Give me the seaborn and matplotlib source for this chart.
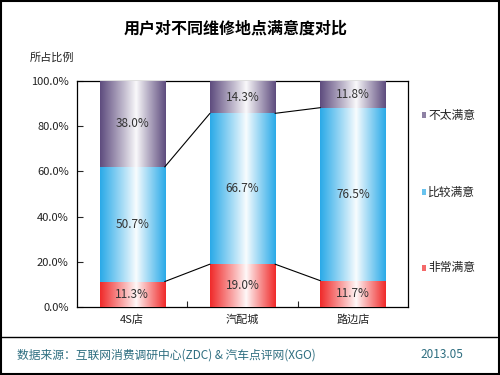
import numpy as np
import pandas as pd
import matplotlib
matplotlib.use("Agg")
import matplotlib.pyplot as plt
import seaborn as sns
from matplotlib.colors import to_rgb
from matplotlib.patches import Rectangle
from matplotlib.lines import Line2D

categories = ["4S店", "汽配城", "路边店"]
very_satisfied = [11.3, 19.0, 11.7]
fairly_satisfied = [50.7, 66.7, 76.5]
not_satisfied = [38.0, 14.3, 11.8]
series_names = ["非常满意", "比较满意", "不太满意"]
series_colors = ["#F02A2A", "#2AAAE8", "#5E4C7E"]
yticks = [0, 20, 40, 60, 80, 100]

sns.set_theme(style="white")
plt.rcParams['font.family'] = ['Noto Sans CJK SC', 'DejaVu Sans']

fig = plt.figure(figsize=(5, 3.75), dpi=100)
ax = fig.add_axes([0.154, 0.181, 0.662, 0.603])

v1 = np.array(very_satisfied)
v2 = np.array(fairly_satisfied)
v3 = np.array(not_satisfied)
cum1 = v1
cum2 = v1 + v2
cum3 = v1 + v2 + v3

df = pd.DataFrame({"cat": categories, "c1": cum1, "c2": cum2, "c3": cum3})
width = 0.59
layers = [("c3", series_colors[2], cum2), ("c2", series_colors[1], cum1), ("c1", series_colors[0], np.zeros(3))]
for col, color, base in layers:
    n0 = len(ax.patches)
    sns.barplot(data=df, x="cat", y=col, color=color, width=width, ax=ax,
                saturation=1, linewidth=0, zorder=2)
    for i, p in enumerate(ax.patches[n0:]):
        x0 = p.get_x(); w = p.get_width()
        y0 = base[i]; y1 = p.get_height()
        # gradient: dark at edges, white near the centre
        t = np.linspace(0, 1, 200)
        d = np.abs(t - 0.55) / np.where(t < 0.55, 0.55, 0.45)
        m = np.clip(d, 0, 1) ** 0.95
        c = np.array(to_rgb(color))
        img = (1 - m)[:, None] * np.ones(3) + m[:, None] * c
        img = np.clip(img * 0.97 + 0.03 * c, 0, 1)
        im = ax.imshow(img[None, :, :], extent=[x0, x0 + w, y0, y1], aspect="auto",
                       zorder=3, interpolation="bilinear")
        im.set_clip_path(p)
        p.set_alpha(0)

ax.set_xlim(-0.5, 2.5)
ax.set_ylim(0, 100)

# connector lines between bars
for cum in (cum1, cum2):
    for i in range(len(categories) - 1):
        ax.plot([i + width / 2, i + 1 - width / 2], [cum[i], cum[i + 1]],
                color="black", lw=0.8, zorder=4)

# value labels
for i in range(len(categories)):
    for val, base in ((v1[i], 0), (v2[i], cum1[i]), (v3[i], cum2[i])):
        ax.text(i, base + val / 2, f"{val:.1f}%", ha="center", va="center",
                fontsize=8.5, color="#333333", zorder=5)

ax.set_yticks(yticks)
ax.set_yticklabels([f"{t:.1f}%" for t in yticks], fontsize=8, color="#222222")
ax.set_xticks(range(len(categories)))
ax.set_xticklabels(categories, fontsize=8, color="#222222")
ax.set_xticks([0.5, 1.5], minor=True)
ax.tick_params(axis="y", which="major", direction="in", length=4, width=0.8, left=True, pad=6)
ax.tick_params(axis="x", which="major", length=0, pad=5)
ax.tick_params(axis="x", which="minor", direction="in", length=4, width=0.8, bottom=True)
ax.set_xlabel("")
ax.set_ylabel("")
for s in ax.spines.values():
    s.set_color("black")
    s.set_linewidth(0.9)

# legend-like labels on the right
legend_y = [115, 192, 268]
for name, color, ypx in zip(series_names[::-1], series_colors[::-1], legend_y):
    fy = 1 - ypx / 375
    fig.patches.append(Rectangle((422 / 500, fy - 0.008), 0.008, 0.016, transform=fig.transFigure,
                                 facecolor=color, edgecolor="none", alpha=0.7, figure=fig))
    fig.text(428 / 500, fy, name, ha="left", va="center", fontsize=8.5, color="#222222")

fig.text(236 / 500, 1 - 28 / 375, "用户对不同维修地点满意度对比", ha="center", va="center",
         fontsize=11.5, fontweight="bold", color="black")
fig.text(30 / 500, 1 - 57 / 375, "所占比例", ha="left", va="center", fontsize=8, color="#222222")

fig.add_artist(Line2D([0, 0.993], [1 - 337 / 375, 1 - 337 / 375], transform=fig.transFigure,
                      color="black", lw=1))
fig.text(17 / 500, 1 - 355 / 375, "数据来源：互联网消费调研中心(ZDC) & 汽车点评网(XGO)", ha="left",
         va="center", fontsize=8.5, color="#2E6E80")
fig.text(463 / 500, 1 - 355 / 375, "2013.05", ha="right", va="center", fontsize=8.5, color="#2E6E80")

fig.patches.append(Rectangle((0.002, 0.003), 0.995, 0.994, transform=fig.transFigure,
                             facecolor="none", edgecolor="black", lw=1.5, figure=fig))

fig.savefig("out.png", dpi=100)
